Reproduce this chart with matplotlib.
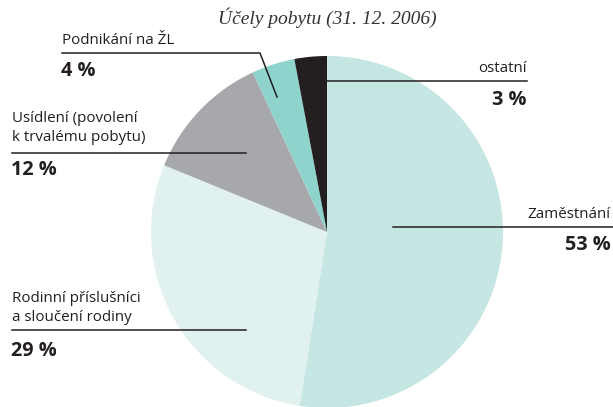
import matplotlib.pyplot as plt

labels = ['Zaměstnání', 'Rodinní příslušníci\na sloučení rodiny',
          'Usídlení (povolení\nk trvalému pobytu)', 'Podnikání na ŽL', 'ostatní']
values = [53, 29, 12, 4, 3]
pcts = ['53 %', '29 %', '12 %', '4 %', '3 %']
colors = ['#c5e6e2', '#e0f1ef', '#a7a8ab', '#8ed3cc', '#231f20']
title = 'Účely pobytu (31. 12. 2006)'

W, H = 613, 407
fig = plt.figure(figsize=(W / 100, H / 100), dpi=100)
ax = fig.add_axes([0, 0, 1, 1])

ax.pie(values, colors=colors, startangle=90, counterclock=False,
       center=(327, H - 232), radius=176, wedgeprops=dict(linewidth=0))
ax.set_xlim(0, W)
ax.set_ylim(0, H)
ax.set_aspect('equal')
ax.axis('off')

fnt = 'Open Sans'
lc = '#231f20'
fs = 10.9
bs = 14.3

def y(v):
    return H - v

ax.text(327, y(18), title, ha='center', va='center', family='Liberation Serif',
        style='italic', fontsize=14, color='#333333')

# Podnikani
ax.text(62, y(40), labels[3], ha='left', va='center', family=fnt, fontsize=fs, color=lc)
ax.text(61, y(71), pcts[3], ha='left', va='center', family=fnt, fontsize=bs,
        fontweight='bold', color=lc)
ax.plot([62, 260, 277], [y(53), y(53), y(97)], color=lc, lw=1.1)

# ostatni
ax.text(527, y(68), labels[4], ha='right', va='center', family=fnt, fontsize=fs, color=lc)
ax.text(527, y(100), pcts[4], ha='right', va='center', family=fnt, fontsize=bs,
        fontweight='bold', color=lc)
ax.plot([322, 527], [y(81), y(81)], color=lc, lw=1.1)

# Usidleni
ax.text(12, y(128), labels[2], ha='left', va='center', family=fnt, fontsize=fs,
        color=lc, linespacing=1.35)
ax.text(11, y(170), pcts[2], ha='left', va='center', family=fnt, fontsize=bs,
        fontweight='bold', color=lc)
ax.plot([12, 246], [y(153), y(153)], color=lc, lw=1.1)

# Zamestnani
ax.text(611, y(214), labels[0], ha='right', va='center', family=fnt, fontsize=fs, color=lc)
ax.text(611, y(245), pcts[0], ha='right', va='center', family=fnt, fontsize=bs,
        fontweight='bold', color=lc)
ax.plot([393, 613], [y(227), y(227)], color=lc, lw=1.1)

# Rodinni
ax.text(12, y(308), labels[1], ha='left', va='center', family=fnt, fontsize=fs,
        color=lc, linespacing=1.35)
ax.text(11, y(351), pcts[1], ha='left', va='center', family=fnt, fontsize=bs,
        fontweight='bold', color=lc)
ax.plot([12, 246], [y(330), y(330)], color=lc, lw=1.1)

fig.savefig('out.png', dpi=100)
